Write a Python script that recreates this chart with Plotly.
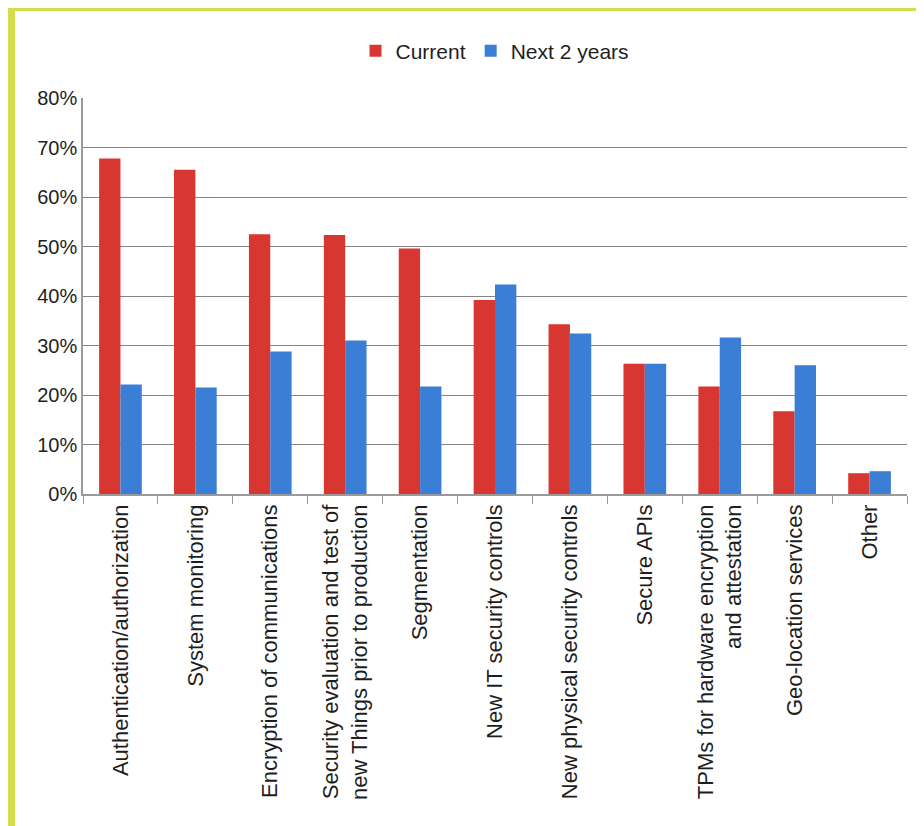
import plotly.graph_objects as go

categories = [
    "Authentication/authorization",
    "System monitoring",
    "Encryption of communications",
    "Security evaluation and test of<br>new Things prior to production",
    "Segmentation",
    "New IT security controls",
    "New physical security controls",
    "Secure APIs",
    "TPMs for hardware encryption<br>and attestation",
    "Geo-location services",
    "Other",
]
current = [67.8, 65.5, 52.5, 52.3, 49.6, 39.2, 34.3, 26.3, 21.7, 16.7, 4.2]
next2 = [22.1, 21.5, 28.8, 31.0, 21.7, 42.3, 32.4, 26.3, 31.6, 26.0, 4.6]
y_ticks = [0, 10, 20, 30, 40, 50, 60, 70, 80]
y_ticktext = [f"{v}%" for v in y_ticks]

RED = "#d83631"
BLUE = "#3a7ed6"
FONT = "Liberation Sans, Arial, sans-serif"

fig = go.Figure()
fig.add_trace(go.Bar(x=categories, y=current, name="Current", marker=dict(color=RED, line=dict(width=0))))
fig.add_trace(go.Bar(x=categories, y=next2, name="Next 2 years", marker=dict(color=BLUE, line=dict(width=0))))

# page has an 8px body margin; figure coordinates are offset by it
OFF = 8
W, H = 924 - OFF, 826 - OFF
L, T = 83 - OFF, 98 - OFF
R = W - (907 - OFF)
B = H - (494 - OFF)
pw, ph = W - L - R, H - T - B

def px_x(p):
    return (p - OFF - L) / pw

def px_y(p):
    return (H - B - (p - OFF)) / ph

fig.update_layout(
    width=W, height=H,
    margin=dict(l=L, r=R, t=T, b=B, autoexpand=False),
    paper_bgcolor="#d3de4b",
    plot_bgcolor="white",
    barmode="group",
    bargap=0.43,
    bargroupgap=0,
    font=dict(family=FONT, size=20, color="#1e1e1e"),
    legend=dict(
        orientation="h", x=0.5, xanchor="center", y=px_y(51), yanchor="middle",
        font=dict(size=21, color="#1e1e1e"), bgcolor="rgba(0,0,0,0)",
        itemwidth=30, tracegroupgap=0,
    ),
    shapes=[
        dict(type="rect", xref="paper", yref="paper", layer="below",
             x0=px_x(15), x1=px_x(919), y0=px_y(840), y1=px_y(11),
             fillcolor="white", line=dict(width=0)),
    ],
    xaxis=dict(
        tickangle=-90,
        tickfont=dict(size=22, color="#1e1e1e"),
        showline=True, linecolor="#9a9a9a", linewidth=1.5,
        ticks="outside", tickson="boundaries", ticklen=8, tickcolor="#9a9a9a",
        showgrid=False,
    ),
    yaxis=dict(
        range=[0, 80],
        tickvals=y_ticks, ticktext=y_ticktext,
        tickfont=dict(size=20, color="#1e1e1e"),
        showline=True, linecolor="#9a9a9a", linewidth=1.5,
        showgrid=True, gridcolor="#858585", gridwidth=1.2,
        ticks="", zeroline=False,
    ),
)

fig.write_html("out.html")
